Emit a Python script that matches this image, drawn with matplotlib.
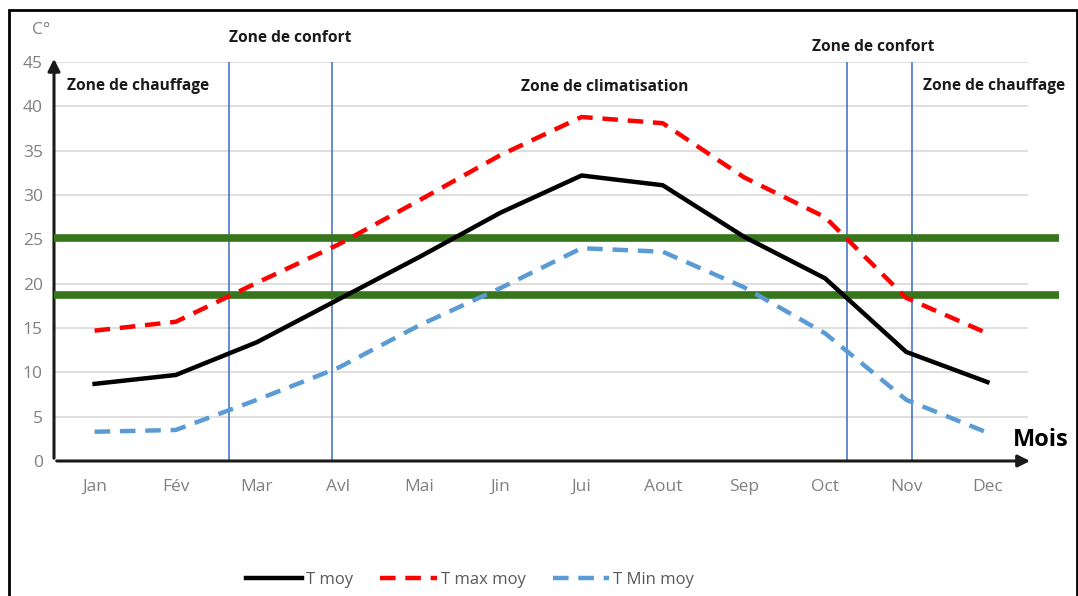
import numpy as np
import matplotlib.pyplot as plt
from matplotlib.patches import Rectangle

plt.rcParams['font.family'] = ['Open Sans', 'DejaVu Sans']

mois = ["Jan", "Fév", "Mar", "Avl", "Mai", "Jin", "Jui", "Aout", "Sep", "Oct", "Nov", "Dec"]
t_moy = [8.7, 9.7, 13.4, 18.2, 23.0, 28.0, 32.2, 31.1, 25.3, 20.6, 12.3, 8.9]
t_max = [14.7, 15.7, 20.1, 24.4, 29.4, 34.5, 38.8, 38.1, 32.0, 27.5, 18.4, 14.4]
t_min = [3.3, 3.5, 6.9, 10.5, 15.3, 19.5, 24.0, 23.6, 19.6, 14.4, 6.9, 3.2]

# limites de la zone de confort (°C)
confort_bas = 18.7
confort_haut = 25.1

W, H = 1078, 596
fig = plt.figure(figsize=(W / 100, H / 100), dpi=100)
ax = fig.add_axes([54 / W, 1 - 461 / H, (1028 - 54) / W, (461 - 62) / H])

x = np.arange(len(mois))
ax.set_xlim(-0.5, 11.5)
ax.set_ylim(0, 45)

ax.set_yticks(np.arange(0, 46, 5))
ax.grid(axis="y", color="#d9d9d9", lw=1.2)
ax.set_axisbelow(True)
ax.set_xticks(x)
ax.set_xticklabels(mois)
ax.tick_params(length=0, labelsize=12.5, labelcolor="#808080")
ax.tick_params(axis="x", pad=13)
ax.tick_params(axis="y", pad=8)

for s in ["top", "right", "left", "bottom"]:
    ax.spines[s].set_visible(False)

# axes avec flèches
ax.annotate("", xy=(1.005, 0), xytext=(0, 0), xycoords="axes fraction",
            arrowprops=dict(arrowstyle="-|>", color="#1a1a1a", lw=2.2, mutation_scale=18))
ax.annotate("", xy=(0, 1.015), xytext=(0, 0), xycoords="axes fraction",
            arrowprops=dict(arrowstyle="-|>", color="#1a1a1a", lw=2.2, mutation_scale=18))

# zones de confort
for v in [1.66, 2.93, 9.27, 10.07]:
    ax.plot([v, v], [0, 45], color="#4a78c8", lw=1.2, zorder=2)
for yv in [confort_bas, confort_haut]:
    ax.plot([-0.5, 11.88], [yv, yv], color="#38761d", lw=5.5, clip_on=False, zorder=3,
            solid_capstyle="butt")

ax.plot(x, t_moy, color="black", lw=3.2, label="T moy", zorder=4)
ax.plot(x, t_max, color="#ff0000", lw=3.2, ls=(0, (3.5, 2.2)), label="T max moy", zorder=4)
ax.plot(x, t_min, color="#5b9bd5", lw=3.2, ls=(0, (3.5, 2.2)), label="T Min moy", zorder=4)

leg = ax.legend(loc="center", bbox_to_anchor=(470 / W, 1 - 580 / H),
                bbox_transform=fig.transFigure, ncol=3, frameon=False,
                fontsize=12, handlelength=3.4, handletextpad=0.25, columnspacing=1.6)
for t in leg.get_texts():
    t.set_color("#595959")

bold = dict(fontsize=11.2, fontweight="bold", color="#1a1a1a")
fig.text(290 / W, 1 - 38 / H, "Zone de confort", ha="center", va="center", **bold)
fig.text(138 / W, 1 - 86 / H, "Zone de chauffage", ha="center", va="center", **bold)
fig.text(605 / W, 1 - 87 / H, "Zone de climatisation", ha="center", va="center", **bold)
fig.text(873 / W, 1 - 47 / H, "Zone de confort", ha="center", va="center", **bold)
fig.text(994 / W, 1 - 86 / H, "Zone de chauffage", ha="center", va="center", **bold)
fig.text(1013 / W, 1 - 440 / H, "Mois", ha="left", va="center", fontsize=17,
         fontweight="bold", color="black")
fig.text(41 / W, 1 - 30 / H, "C°", ha="center", va="center", fontsize=12.5, color="#808080")

# cadre
fig.patches.append(Rectangle((9 / W, -0.1), (1077 - 9) / W, 1.1 - 10 / H,
                             transform=fig.transFigure, fill=False, lw=2, ec="black"))

fig.savefig("out.png", dpi=100)
